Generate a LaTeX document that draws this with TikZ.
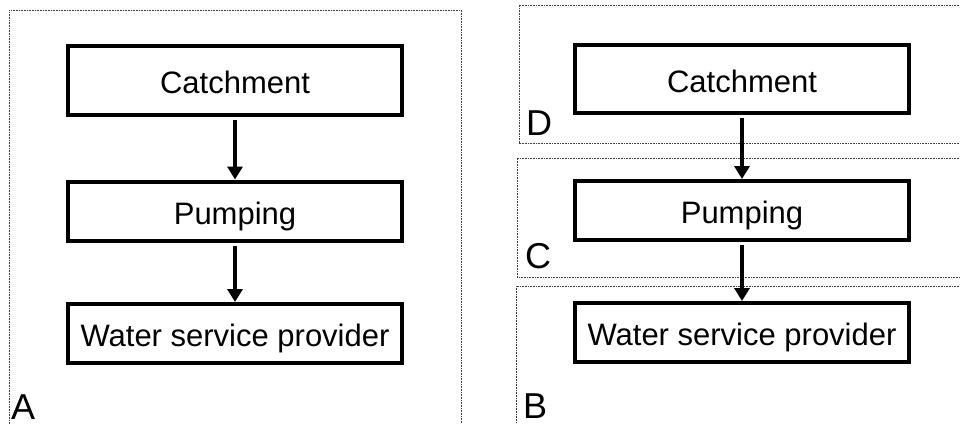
\documentclass[tikz,border=0pt]{standalone}
\usepackage{fontspec}
\setmainfont{Liberation Sans}
\usetikzlibrary{arrows.meta}
\tikzset{
  procbox/.style={draw=black, line width=4pt, inner sep=0pt, minimum width=334pt,
    text height=26pt, text depth=0pt, font=\fontsize{31}{37}\selectfont},
  zone/.style={draw=black!75, line width=0.8pt, dash pattern=on 0.8pt off 0.8pt},
  zonelabel/.style={anchor=base west, inner sep=0pt, font=\fontsize{36}{43}\selectfont},
  flow/.style={line width=4.5pt, -{Triangle[width=15pt,length=13pt]}, shorten <=3pt, shorten >=0pt}
}
\begin{document}
\begin{tikzpicture}[x=1pt,y=-1pt]
\useasboundingbox[fill=white] (0,0) rectangle (960,423);
\clip (0,0) rectangle (960,423);
% zones
\draw[zone] (9,440) -- (9,10) -- (461,10) -- (461,440);
\draw[zone] (980,5) -- (519,5) -- (519,143) -- (980,143);
\draw[zone] (980,158) -- (517,158) -- (517,277) -- (980,277);
\draw[zone] (980,286) -- (516,286) -- (516,440);
% left flow
\node[procbox, minimum height=69pt] (cA) at (235,80.5) {Catchment};
\node[procbox, minimum height=59pt] (pA) at (235,211) {Pumping};
\node[procbox, minimum height=59pt] (wA) at (235,333.5) {Water service provider};
\draw[flow] (cA) -- (pA);
\draw[flow] (pA) -- (wA);
% right flow
\node[procbox, minimum height=68pt] (cB) at (742,79) {Catchment};
\node[procbox, minimum height=59pt] (pB) at (742,210.5) {Pumping};
\node[procbox, minimum height=59pt] (wB) at (742,332.5) {Water service provider};
\draw[flow] (cB) -- (pB);
\draw[flow] (pB) -- (wB);
% labels
\node[zonelabel] (lA) at (11,419) {A};
\node[zonelabel] (lB) at (523,418) {B};
\node[zonelabel] (lC) at (525,268) {C};
\node[zonelabel] (lD) at (526,135) {D};
\end{tikzpicture}
\end{document}
